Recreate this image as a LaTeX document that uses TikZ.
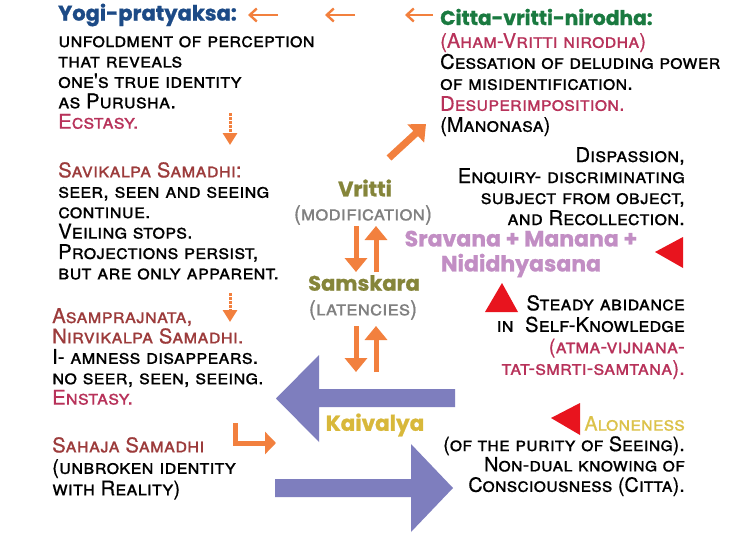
\documentclass[tikz,border=0pt]{standalone}
\usepackage{fontspec}
\usepackage{xcolor}
\usetikzlibrary{arrows.meta, calc}
\newfontfamily\bodyfont{TeX Gyre Heros}[FakeBold=0.5]
\newfontfamily\headfont{Poppins}[FakeBold=1]
\definecolor{yogiblue}{HTML}{1C4A86}
\definecolor{cittagreen}{HTML}{1A7A40}
\definecolor{rose}{HTML}{B8325A}
\definecolor{samred}{HTML}{9C3B3B}
\definecolor{olive}{HTML}{85853A}
\definecolor{modgrey}{HTML}{808080}
\definecolor{arroworange}{HTML}{F2803E}
\definecolor{lilac}{HTML}{C28EC4}
\definecolor{kaigold}{HTML}{D8B83A}
\definecolor{alonegold}{HTML}{DCC24A}
\definecolor{tri}{HTML}{E8141E}
\definecolor{bigarrow}{HTML}{7E7EBE}

\begin{document}
\begin{tikzpicture}[x=1pt, y=-1pt,
    body/.style={font=\bodyfont\scshape\fontsize{20.3}{20.4}\selectfont, inner sep=0pt},
    head/.style={font=\headfont\bfseries\fontsize{21}{24}\selectfont, inner sep=0pt},
    mid/.style={font=\headfont\bfseries\fontsize{21}{25}\selectfont, inner sep=0pt},
    sub/.style={font=\bodyfont\scshape\fontsize{21}{20}\selectfont, text=modgrey, inner sep=0pt},
    toparrow/.style={arroworange, line width=2.4pt, -{Straight Barb[length=7pt,width=13pt]}},
    vsarrow/.style={arroworange, line width=5pt, -{Triangle[length=14pt,width=22pt]}},
    dasharrow/.style={arroworange, line width=3pt, dash pattern=on 2.5pt off 1.5pt, -{Triangle[length=12pt,width=14pt]}}]
    % Fix the page
    \useasboundingbox[fill=white] (0,0) rectangle (740,546);

    % Titles of the two upper blocks
    \node[head, text=yogiblue, anchor=west] (yogi) at (58,15) {Yogi-pratyaksa:};
    \node[head, text=cittagreen, anchor=west, font=\headfont\bfseries\fontsize{20.2}{24}\selectfont] (citta) at (440,17) {Citta-vritti-nirodha:};

    % Left column
    \node[body, align=left, anchor=north west] (yogitext) at (58,36)
        {unfoldment of perception\\ that reveals\\ one's true identity\\ as Purusha.\\ \textcolor{rose}{Ecstasy.}};
    \node[body, align=left, anchor=north west] (savikalpa) at (58,162)
        {\textcolor{samred}{Savikalpa Samadhi:}\\ seer, seen and seeing\\ continue.\\ Veiling stops.\\ Projections persist,\\ but are only apparent.};
    \node[body, align=left, anchor=north west] (asam) at (52,308)
        {\textcolor{samred}{Asamprajnata,}\\ \textcolor{samred}{Nirvikalpa Samadhi.}\\ I- amness disappears.\\ no seer, seen, seeing.\\ \textcolor{rose}{Enstasy.}};
    \node[body, align=left, anchor=north west, font=\bodyfont\scshape\fontsize{20.3}{21.5}\selectfont] (sahaja) at (52,437)
        {\textcolor{samred}{Sahaja Samadhi}\\ (unbroken identity\\ with Reality)};

    % Right column
    \node[body, align=left, anchor=north west, font=\bodyfont\scshape\fontsize{20}{21}\selectfont] (cittatext) at (440,33)
        {\textcolor{rose}{(Aham-Vritti nirodha)}\\ Cessation of deluding power\\ of misidentification.\\ \textcolor{rose}{Desuperimposition.}\\ (Manonasa)};
    \node[body, align=right, anchor=north east, font=\bodyfont\scshape\fontsize{20.3}{21}\selectfont] (dispassion) at (685,147)
        {Dispassion,\\ Enquiry- discriminating\\ subject from object,\\ and Recollection.};
    \node[mid, text=lilac, align=center, font=\headfont\bfseries\fontsize{22}{25}\selectfont] (sravana) at (521,254)
        {Sravana + Manana +\\ Nididhyasana};
    \node[body, align=right, anchor=north east, font=\bodyfont\scshape\fontsize{20.3}{21.5}\selectfont] (steady) at (685,295)
        {Steady abidance\\ in\ \ Self-Knowledge\\ \textcolor{rose}{(atma-vijnana-}\\ \textcolor{rose}{tat-smrti-samtana).}};
    \node[body, align=right, anchor=north east, font=\bodyfont\scshape\fontsize{19.8}{20.4}\selectfont] (alone) at (685,416)
        {\textcolor{alonegold}{Aloneness}\\ (of the purity of Seeing).\\ Non-dual knowing of\\ Consciousness (Citta).};

    % Centre: the cycle
    \node[mid, text=olive] (vritti) at (365,188) {Vritti};
    \node[sub] (modif) at (363,215) {(modification)};
    \node[mid, text=olive] (samskara) at (364,283) {Samskara};
    \node[sub] (latent) at (363,310) {(latencies)};
    \node[mid, text=kaigold, font=\headfont\bfseries\fontsize{21.5}{25}\selectfont] (kaivalya) at (375,425) {Kaivalya};

    % Arrows along the top
    \foreach \i/\xa/\xb in {1/278/248, 2/355/325, 3/433/405} {
        \coordinate (T\i a) at (\xa,15);
        \coordinate (T\i b) at (\xb,15);
        \draw[toparrow] (T\i a) -- (T\i b);
    }

    % Up and down arrows between Vritti, Samskara and Kaivalya
    \foreach \i/\ya/\yb in {1/226/272, 2/326/372} {
        \coordinate (D\i a) at (356,\ya);
        \coordinate (D\i b) at (356,\yb);
        \coordinate (U\i a) at (376,\yb);
        \coordinate (U\i b) at (376,\ya);
        \draw[vsarrow] (D\i a) -- (D\i b);
        \draw[vsarrow] (U\i a) -- (U\i b);
    }

    % Vritti up to Citta-vritti-nirodha
    \coordinate (diagA) at (389,158);
    \coordinate (diagB) at (426,124);
    \draw[arroworange, line width=7pt, -{Triangle[length=14pt,width=24pt]}] (diagA) -- (diagB);

    % Dashed arrows down the left column
    \coordinate (dash1a) at (230,113);
    \coordinate (dash1b) at (230,145);
    \coordinate (dash2a) at (230,293);
    \coordinate (dash2b) at (230,322);
    \draw[dasharrow] (dash1a) -- (dash1b);
    \draw[dasharrow] (dash2a) -- (dash2b);

    % Bent arrow from Sahaja Samadhi
    \coordinate (bendA) at (235,423);
    \coordinate (bendB) at (276,443);
    \draw[arroworange, line width=5pt, -{Triangle[length=11pt,width=22pt]}] (bendA) |- (bendB);

    % Big arrows round Kaivalya
    \fill[bigarrow] (455,389) -- (319,389) -- (319,355) -- (276,398.5) -- (319,442) -- (319,407) -- (455,407) -- cycle;
    \fill[bigarrow] (275,479) -- (411,479) -- (411,444) -- (453,488) -- (411,532) -- (411,497) -- (275,497) -- cycle;

    % Red markers
    \fill[tri] (655,252) -- (683,237) -- (683,268) -- cycle;
    \fill[tri] (502,283) -- (485,312) -- (518,312) -- cycle;
    \fill[tri] (551,418) -- (580,403) -- (580,435) -- cycle;
\end{tikzpicture}
\end{document}
